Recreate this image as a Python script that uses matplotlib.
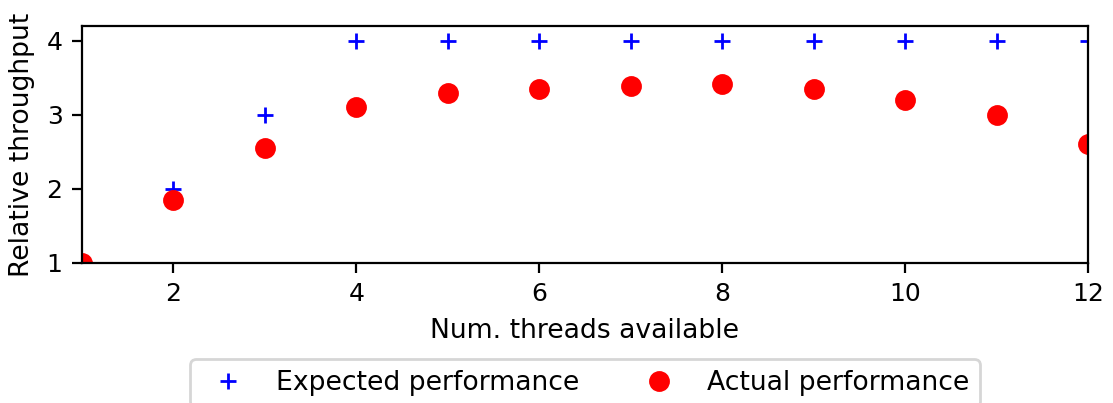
import matplotlib
matplotlib.use("Agg")
import matplotlib.pyplot as plt

threads = [1, 2, 3, 4, 5, 6, 7, 8, 9, 10, 11, 12]
expected = [1, 2, 3, 4, 4, 4, 4, 4, 4, 4, 4, 4]
actual = [1.0, 1.85, 2.55, 3.1, 3.3, 3.35, 3.39, 3.42, 3.35, 3.2, 3.0, 2.6]

plt.rcParams['font.size'] = 9.6
plt.rcParams['xtick.labelsize'] = 9
plt.rcParams['ytick.labelsize'] = 9

fig = plt.figure(figsize=(5.565, 2.015), dpi=200)
ax = fig.add_axes([0.0737, 0.3474, 0.9038, 0.5881])

ax.plot(threads, expected, linestyle='none', marker='+', color='blue',
        markersize=6, markeredgewidth=1.0, label='Expected performance')
ax.plot(threads, actual, linestyle='none', marker='o', color='red',
        markersize=6.5, label='Actual performance')

ax.set_xlim(1, 12)
ax.set_ylim(1, 4.2)
ax.set_xticks([2, 4, 6, 8, 10, 12])
ax.set_yticks([1, 2, 3, 4])
ax.set_xlabel('Num. threads available')
ax.set_ylabel('Relative throughput')

# legend sits below the axes, partly cut off by the figure edge
fig.legend(loc='upper center', bbox_to_anchor=(0.5256, 1 - 346 / 403), ncol=2)

fig.savefig('out.png', dpi=200)
